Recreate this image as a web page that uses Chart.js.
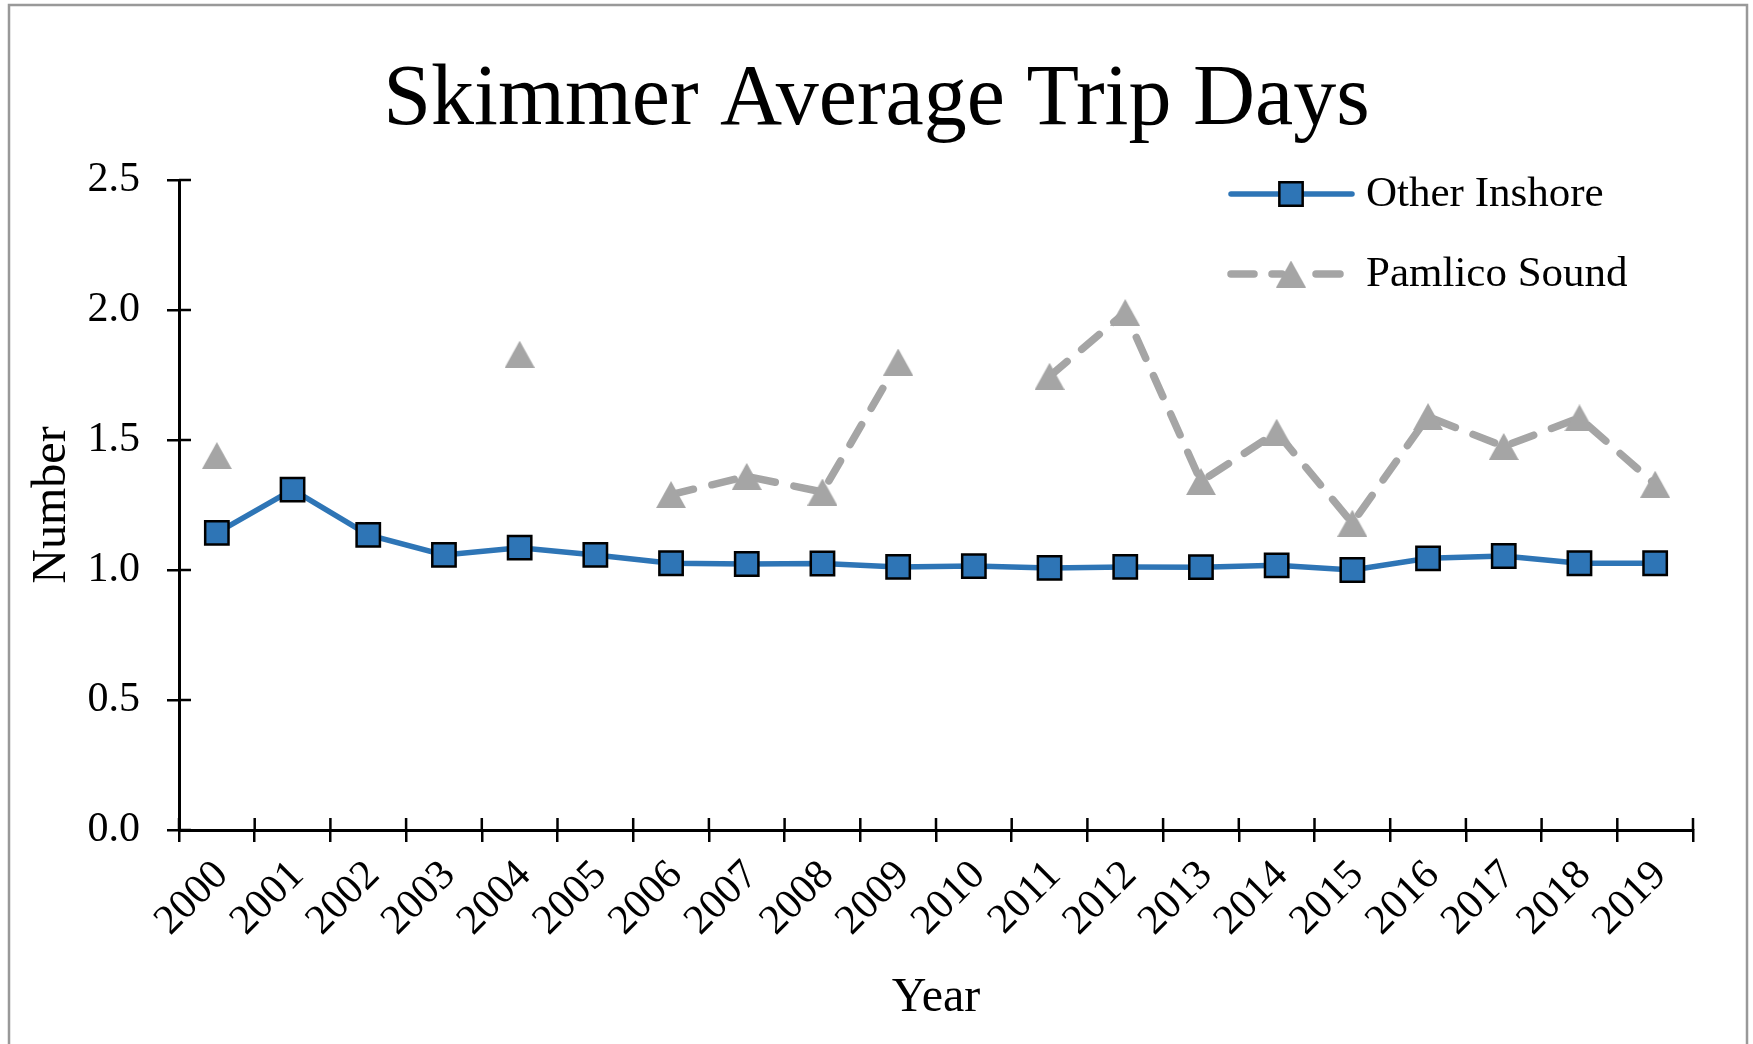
<!DOCTYPE html>
<html>
<head>
<meta charset="utf-8">
<script src="https://cdn.jsdelivr.net/npm/chart.js@4/dist/chart.umd.min.js"></script>
<style>
  html, body { margin: 0; padding: 0; background: #fff; }
  #wrap { width: 1753px; height: 1044px; position: relative; }
</style>
</head>
<body>
<div id="wrap"><canvas id="c" width="1753" height="1044"></canvas></div>
<script>
const years = ['2000','2001','2002','2003','2004','2005','2006','2007','2008','2009',
               '2010','2011','2012','2013','2014','2015','2016','2017','2018','2019'];
const otherInshore = [1.143, 1.309, 1.135, 1.058, 1.086, 1.058, 1.026, 1.023, 1.025, 1.012,
                      1.015, 1.008, 1.012, 1.011, 1.018, 1.000, 1.045, 1.054, 1.026, 1.026];
const pamlicoSound = [1.44, null, null, null, 1.83, null, 1.29, 1.36, 1.30, 1.80,
                      null, 1.745, 1.99, 1.34, 1.53, 1.18, 1.59, 1.475, 1.585, 1.33];
const yTicks = { min: 0, max: 2.5, step: 0.5 };
const seriesNames = ['Other Inshore', 'Pamlico Sound'];
const titleText = 'Skimmer Average Trip Days';
const xTitle = 'Year';
const yTitle = 'Number';

const SERIF = "'Liberation Serif', 'Times New Roman', serif";
const BLUE = '#2E75B6';
const GRAY = '#A5A5A5';

// box-centred triangle marker image
function makeTriangle(w, h, color) {
  const c = document.createElement('canvas');
  c.width = w; c.height = h;
  const g = c.getContext('2d');
  g.fillStyle = color;
  g.beginPath();
  g.moveTo(w / 2, 0);
  g.lineTo(w, h);
  g.lineTo(0, h);
  g.closePath();
  g.fill();
  return c;
}
const triImg = makeTriangle(30, 27, GRAY);

const frame = {
  id: 'frame',
  beforeDraw(chart) {
    const ctx = chart.ctx;
    ctx.save();
    ctx.fillStyle = '#fff';
    ctx.fillRect(0, 0, chart.width, chart.height);
    ctx.strokeStyle = '#999999';
    ctx.lineWidth = 2.5;
    ctx.strokeRect(9, 5, 1738, 1200);
    ctx.restore();
  }
};

const innerTicks = {
  id: 'innerTicks',
  afterDatasetsDraw(chart) {
    const ctx = chart.ctx;
    const xs = chart.scales.x, ys = chart.scales.y;
    ctx.save();
    ctx.strokeStyle = '#000';
    ctx.lineWidth = 2.5;
    const half = (xs.getPixelForValue(1) - xs.getPixelForValue(0)) / 2;
    ctx.beginPath();
    for (let i = 0; i <= years.length; i++) {
      const x = xs.getPixelForValue(i) - half;
      ctx.moveTo(x, ys.bottom);
      ctx.lineTo(x, ys.bottom - 12);
    }
    ys.ticks.forEach(t => {
      const y = ys.getPixelForValue(t.value);
      ctx.moveTo(xs.left, y);
      ctx.lineTo(xs.left + 12, y);
    });
    ctx.stroke();
    ctx.restore();
  }
};

const customLegend = {
  id: 'customLegend',
  afterDraw(chart) {
    const ctx = chart.ctx;
    const rows = [194, 274];
    ctx.save();
    chart.data.datasets.forEach((ds, i) => {
      const y = rows[i];
      ctx.lineCap = 'round';
      ctx.strokeStyle = ds.borderColor;
      ctx.lineWidth = ds.borderWidth;
      ctx.beginPath();
      if (ds.borderDash) {
        ctx.moveTo(1231, y); ctx.lineTo(1254, y);
        ctx.moveTo(1272, y); ctx.lineTo(1282, y);
        ctx.moveTo(1316, y); ctx.lineTo(1340, y);
      } else {
        ctx.moveTo(1231, y); ctx.lineTo(1352, y);
      }
      ctx.stroke();
      if (ds.pointStyle === 'rect') {
        const s = Math.SQRT1_2 * ds.pointRadius;
        ctx.beginPath();
        ctx.rect(1291 - s, y - s, 2 * s, 2 * s);
        ctx.fillStyle = ds.pointBackgroundColor;
        ctx.fill();
        ctx.strokeStyle = ds.pointBorderColor;
        ctx.lineWidth = ds.pointBorderWidth;
        ctx.stroke();
      } else {
        const img = ds.pointStyle;
        ctx.drawImage(img, 1291 - img.width / 2, y - img.height / 2);
      }
      ctx.fillStyle = '#000';
      ctx.font = '43px ' + SERIF;
      ctx.textBaseline = 'middle';
      ctx.textAlign = 'left';
      ctx.fillText(ds.label, 1366, y + 1);
    });
    ctx.restore();
  }
};

new Chart(document.getElementById('c'), {
  type: 'line',
  data: {
    labels: years,
    datasets: [
      {
        label: seriesNames[0],
        data: otherInshore,
        borderColor: BLUE,
        borderWidth: 5.5,
        pointStyle: 'rect',
        pointRadius: 16.5,
        pointBackgroundColor: BLUE,
        pointBorderColor: '#000',
        pointBorderWidth: 2.5,
        tension: 0,
        spanGaps: false
      },
      {
        label: seriesNames[1],
        data: pamlicoSound,
        borderColor: GRAY,
        borderWidth: 7.5,
        borderDash: [23, 19],
        borderCapStyle: 'round',
        pointStyle: triImg,
        pointRadius: 15,
        pointBackgroundColor: GRAY,
        pointBorderColor: GRAY,
        pointBorderWidth: 0,
        tension: 0,
        spanGaps: false
      }
    ]
  },
  options: {
    responsive: false,
    animation: false,
    devicePixelRatio: 1,
    layout: { padding: 0 },
    plugins: {
      legend: { display: false },
      tooltip: { enabled: false },
      title: {
        display: true,
        text: titleText,
        color: '#000',
        font: { family: SERIF, size: 86, weight: 'normal', lineHeight: 1 },
        padding: { top: 58, bottom: 36 }
      }
    },
    scales: {
      x: {
        type: 'category',
        offset: true,
        afterFit(s) { s.height = 214; },
        grid: { display: true, drawOnChartArea: false, drawTicks: true, tickLength: 12,
                color: '#000', lineWidth: 2.5, offset: true },
        border: { display: true, color: '#000', width: 3 },
        ticks: { color: '#000', font: { family: SERIF, size: 42 }, maxRotation: 45,
                 minRotation: 45, autoSkip: false, padding: 9, labelOffset: 5 },
        title: { display: true, text: xTitle, color: '#000',
                 font: { family: SERIF, size: 48, lineHeight: 1.2 }, padding: { top: 0, bottom: 17 } }
      },
      y: {
        min: yTicks.min,
        max: yTicks.max,
        afterFit(s) { s.width = 179; },
        grid: { display: true, drawOnChartArea: false, drawTicks: true, tickLength: 12,
                color: '#000', lineWidth: 2.5 },
        border: { display: true, color: '#000', width: 3 },
        ticks: { stepSize: yTicks.step, color: '#000', font: { family: SERIF, size: 42 },
                 padding: 27, callback: v => Number(v).toFixed(1) },
        title: { display: true, text: yTitle, color: '#000',
                 font: { family: SERIF, size: 48, lineHeight: 1.2 }, padding: { top: 24, bottom: 0 } }
      },
      yRightSpacer: {
        type: 'linear',
        position: 'right',
        display: true,
        afterFit(s) { s.width = 60; },
        grid: { display: false, drawTicks: false },
        border: { display: false },
        ticks: { display: false },
        title: { display: false }
      }
    }
  },
  plugins: [frame, innerTicks, customLegend]
});
</script>
</body>
</html>
